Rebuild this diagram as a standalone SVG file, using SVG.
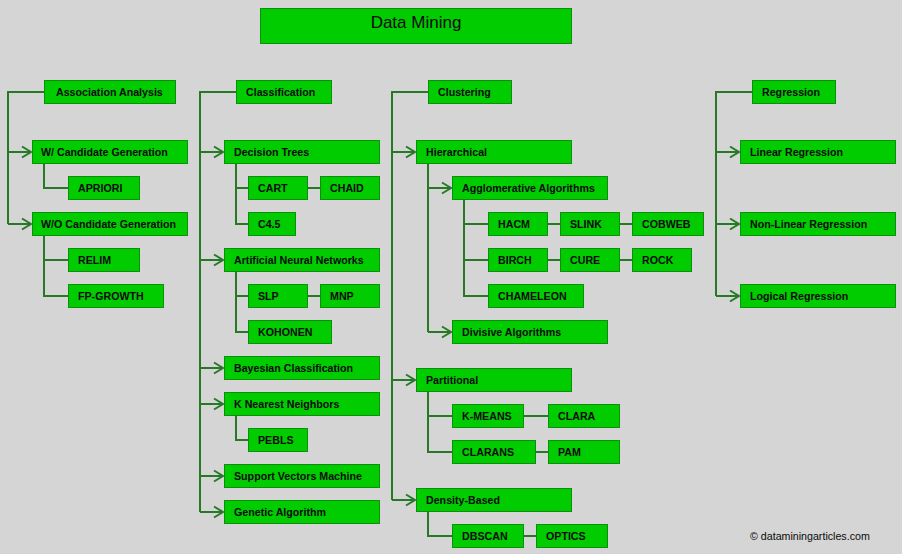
<svg xmlns="http://www.w3.org/2000/svg" width="902" height="554" viewBox="0 0 902 554">
<style>
.b{fill:#00cc00;stroke:#0e8e0e;stroke-width:1}
.t{font-family:"Liberation Sans",Arial,sans-serif;font-size:10.67px;font-weight:bold;fill:#0a0a0a}
.c{fill:none;stroke:#267a26;stroke-width:2}
</style>
<defs>
<marker id="ar" markerUnits="userSpaceOnUse" markerWidth="14" markerHeight="14" refX="11" refY="7" orient="auto" viewBox="0 0 14 14">
<path d="M2,1.5 L11,7 L2,12.5" fill="none" stroke="#267a26" stroke-width="2"/>
</marker>
</defs>
<rect width="902" height="554" fill="#d5d5d5"/>

<g id="connectors">
<!-- Association -->
<path class="c" d="M44,92 H8 V224"/>
<path class="c" d="M8,152 H31" marker-end="url(#ar)"/>
<path class="c" d="M8,224 H31" marker-end="url(#ar)"/>
<path class="c" d="M44,164 V188 H68"/>
<path class="c" d="M44,236 V296 H68 M44,260 H68"/>
<!-- Classification -->
<path class="c" d="M236,92 H200 V512"/>
<path class="c" d="M200,152 H223" marker-end="url(#ar)"/>
<path class="c" d="M200,260 H223" marker-end="url(#ar)"/>
<path class="c" d="M200,368 H223" marker-end="url(#ar)"/>
<path class="c" d="M200,404 H223" marker-end="url(#ar)"/>
<path class="c" d="M200,476 H223" marker-end="url(#ar)"/>
<path class="c" d="M200,512 H223" marker-end="url(#ar)"/>
<path class="c" d="M236,164 V224 H248 M236,188 H248 M308,188 H320"/>
<path class="c" d="M236,272 V332 H248 M236,296 H248 M308,296 H320"/>
<path class="c" d="M236,416 V440 H248"/>
<!-- Clustering -->
<path class="c" d="M428,92 H392 V500"/>
<path class="c" d="M392,152 H415" marker-end="url(#ar)"/>
<path class="c" d="M392,380 H415" marker-end="url(#ar)"/>
<path class="c" d="M392,500 H415" marker-end="url(#ar)"/>
<path class="c" d="M428,164 V332"/>
<path class="c" d="M428,188 H451" marker-end="url(#ar)"/>
<path class="c" d="M428,332 H451" marker-end="url(#ar)"/>
<path class="c" d="M464,200 V296 H488 M464,224 H488 M464,260 H488"/>
<path class="c" d="M548,224 H560 M620,224 H632 M548,260 H560 M620,260 H632"/>
<path class="c" d="M428,392 V452 H452 M428,416 H452 M524,416 H548 M536,452 H548"/>
<path class="c" d="M428,512 V536 H452 M524,536 H536"/>
<!-- Regression -->
<path class="c" d="M752,92 H716 V296"/>
<path class="c" d="M716,152 H739" marker-end="url(#ar)"/>
<path class="c" d="M716,224 H739" marker-end="url(#ar)"/>
<path class="c" d="M716,296 H739" marker-end="url(#ar)"/>
</g>

<g id="data-mining"><rect class="b" x="260.5" y="8.5" width="311" height="35"/><text x="416" y="28" text-anchor="middle" font-family="Liberation Sans,Arial,sans-serif" font-size="17" fill="#0a0a0a">Data Mining</text></g>

<g id="association-analysis"><rect class="b" x="44.5" y="80.5" width="131" height="23"/><text class="t" x="56" y="96">Association Analysis</text></g>
<g id="w-candidate"><rect class="b" x="32.5" y="140.5" width="155" height="23"/><text class="t" x="41" y="156">W/ Candidate Generation</text></g>
<g id="apriori"><rect class="b" x="68.5" y="176.5" width="71" height="23"/><text class="t" x="78" y="192">APRIORI</text></g>
<g id="wo-candidate"><rect class="b" x="32.5" y="212.5" width="155" height="23"/><text class="t" x="41" y="228">W/O Candidate Generation</text></g>
<g id="relim"><rect class="b" x="68.5" y="248.5" width="71" height="23"/><text class="t" x="78" y="264">RELIM</text></g>
<g id="fp-growth"><rect class="b" x="68.5" y="284.5" width="95" height="23"/><text class="t" x="78" y="300">FP-GROWTH</text></g>

<g id="classification"><rect class="b" x="236.5" y="80.5" width="95" height="23"/><text class="t" x="246" y="96">Classification</text></g>
<g id="decision-trees"><rect class="b" x="224.5" y="140.5" width="155" height="23"/><text class="t" x="234" y="156">Decision Trees</text></g>
<g id="cart"><rect class="b" x="248.5" y="176.5" width="59" height="23"/><text class="t" x="258" y="192">CART</text></g>
<g id="chaid"><rect class="b" x="320.5" y="176.5" width="59" height="23"/><text class="t" x="330" y="192">CHAID</text></g>
<g id="c45"><rect class="b" x="248.5" y="212.5" width="47" height="23"/><text class="t" x="258" y="228">C4.5</text></g>
<g id="ann"><rect class="b" x="224.5" y="248.5" width="155" height="23"/><text class="t" x="234" y="264">Artificial Neural Networks</text></g>
<g id="slp"><rect class="b" x="248.5" y="284.5" width="59" height="23"/><text class="t" x="258" y="300">SLP</text></g>
<g id="mnp"><rect class="b" x="320.5" y="284.5" width="59" height="23"/><text class="t" x="330" y="300">MNP</text></g>
<g id="kohonen"><rect class="b" x="248.5" y="320.5" width="83" height="23"/><text class="t" x="258" y="336">KOHONEN</text></g>
<g id="bayesian"><rect class="b" x="224.5" y="356.5" width="155" height="23"/><text class="t" x="234" y="372">Bayesian Classification</text></g>
<g id="knn"><rect class="b" x="224.5" y="392.5" width="155" height="23"/><text class="t" x="234" y="408">K Nearest Neighbors</text></g>
<g id="pebls"><rect class="b" x="248.5" y="428.5" width="59" height="23"/><text class="t" x="258" y="444">PEBLS</text></g>
<g id="svm"><rect class="b" x="224.5" y="464.5" width="155" height="23"/><text class="t" x="234" y="480">Support Vectors Machine</text></g>
<g id="genetic"><rect class="b" x="224.5" y="500.5" width="155" height="23"/><text class="t" x="234" y="516">Genetic Algorithm</text></g>

<g id="clustering"><rect class="b" x="428.5" y="80.5" width="83" height="23"/><text class="t" x="438" y="96">Clustering</text></g>
<g id="hierarchical"><rect class="b" x="416.5" y="140.5" width="155" height="23"/><text class="t" x="426" y="156">Hierarchical</text></g>
<g id="agglomerative"><rect class="b" x="452.5" y="176.5" width="155" height="23"/><text class="t" x="462" y="192">Agglomerative Algorithms</text></g>
<g id="hacm"><rect class="b" x="488.5" y="212.5" width="59" height="23"/><text class="t" x="498" y="228">HACM</text></g>
<g id="slink"><rect class="b" x="560.5" y="212.5" width="59" height="23"/><text class="t" x="570" y="228">SLINK</text></g>
<g id="cobweb"><rect class="b" x="632.5" y="212.5" width="71" height="23"/><text class="t" x="642" y="228">COBWEB</text></g>
<g id="birch"><rect class="b" x="488.5" y="248.5" width="59" height="23"/><text class="t" x="498" y="264">BIRCH</text></g>
<g id="cure"><rect class="b" x="560.5" y="248.5" width="59" height="23"/><text class="t" x="570" y="264">CURE</text></g>
<g id="rock"><rect class="b" x="632.5" y="248.5" width="59" height="23"/><text class="t" x="642" y="264">ROCK</text></g>
<g id="chameleon"><rect class="b" x="488.5" y="284.5" width="95" height="23"/><text class="t" x="498" y="300">CHAMELEON</text></g>
<g id="divisive"><rect class="b" x="452.5" y="320.5" width="155" height="23"/><text class="t" x="462" y="336">Divisive Algorithms</text></g>
<g id="partitional"><rect class="b" x="416.5" y="368.5" width="155" height="23"/><text class="t" x="426" y="384">Partitional</text></g>
<g id="kmeans"><rect class="b" x="452.5" y="404.5" width="71" height="23"/><text class="t" x="462" y="420">K-MEANS</text></g>
<g id="clara"><rect class="b" x="548.5" y="404.5" width="71" height="23"/><text class="t" x="558" y="420">CLARA</text></g>
<g id="clarans"><rect class="b" x="452.5" y="440.5" width="83" height="23"/><text class="t" x="462" y="456">CLARANS</text></g>
<g id="pam"><rect class="b" x="548.5" y="440.5" width="71" height="23"/><text class="t" x="558" y="456">PAM</text></g>
<g id="density"><rect class="b" x="416.5" y="488.5" width="155" height="23"/><text class="t" x="426" y="504">Density-Based</text></g>
<g id="dbscan"><rect class="b" x="452.5" y="524.5" width="71" height="23"/><text class="t" x="462" y="540">DBSCAN</text></g>
<g id="optics"><rect class="b" x="536.5" y="524.5" width="71" height="23"/><text class="t" x="546" y="540">OPTICS</text></g>

<g id="regression"><rect class="b" x="752.5" y="80.5" width="83" height="23"/><text class="t" x="762" y="96">Regression</text></g>
<g id="linear"><rect class="b" x="740.5" y="140.5" width="155" height="23"/><text class="t" x="750" y="156">Linear Regression</text></g>
<g id="nonlinear"><rect class="b" x="740.5" y="212.5" width="155" height="23"/><text class="t" x="750" y="228">Non-Linear Regression</text></g>
<g id="logical"><rect class="b" x="740.5" y="284.5" width="155" height="23"/><text class="t" x="750" y="300">Logical Regression</text></g>

<text x="750" y="540" font-family="Liberation Sans,Arial,sans-serif" font-size="10.67" fill="#0a0a0a">© dataminingarticles.com</text>
</svg>
